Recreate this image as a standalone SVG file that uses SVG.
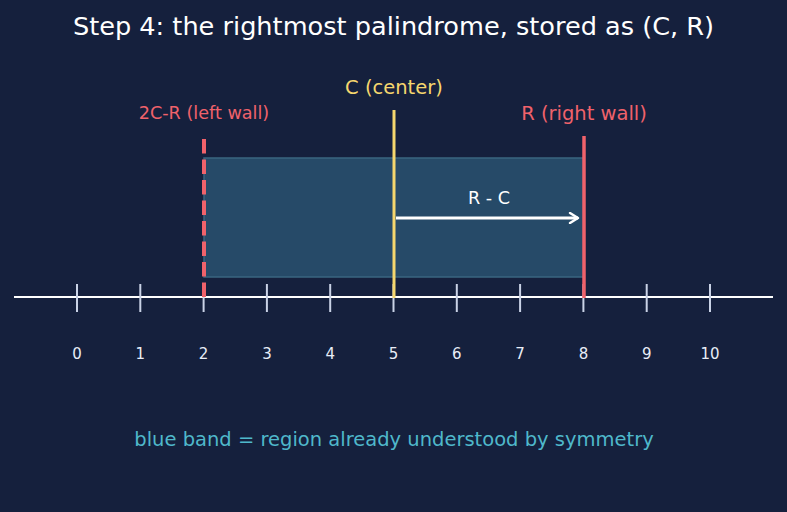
<svg xmlns="http://www.w3.org/2000/svg" width="787" height="512" viewBox="0 0 787 512">
<defs>
<style>
text{font-family:"DejaVu Sans","Noto Sans",sans-serif;text-anchor:middle}
.tick{stroke:#c9d2e6;stroke-width:2}
.num{fill:#e8edf7;font-size:15px}
</style>
<marker id="ah" viewBox="0 0 12 12" refX="10" refY="6" markerWidth="12" markerHeight="12" markerUnits="userSpaceOnUse" orient="auto">
<path d="M2,1 L10,6 L2,11" fill="none" stroke="#ffffff" stroke-width="2.4" stroke-linecap="round" stroke-linejoin="round"/>
</marker>
</defs>
<rect width="787" height="512" fill="#15203d"/>
<text x="393.5" y="35" font-size="25.6" fill="#ffffff">Step 4: the rightmost palindrome, stored as (C, R)</text>
<g id="band">
<rect x="204" y="158" width="380" height="119" fill="#264a68" stroke="#3a6680" stroke-width="1.5"/>
</g>
<g id="axis">
<line x1="14" y1="297" x2="773" y2="297" stroke="#ffffff" stroke-width="2"/>
<line class="tick" x1="77" y1="284" x2="77" y2="312"/>
<line class="tick" x1="140.3" y1="284" x2="140.3" y2="312"/>
<line class="tick" x1="203.6" y1="284" x2="203.6" y2="312"/>
<line class="tick" x1="266.9" y1="284" x2="266.9" y2="312"/>
<line class="tick" x1="330.2" y1="284" x2="330.2" y2="312"/>
<line class="tick" x1="393.5" y1="284" x2="393.5" y2="312"/>
<line class="tick" x1="456.8" y1="284" x2="456.8" y2="312"/>
<line class="tick" x1="520.1" y1="284" x2="520.1" y2="312"/>
<line class="tick" x1="583.4" y1="284" x2="583.4" y2="312"/>
<line class="tick" x1="646.7" y1="284" x2="646.7" y2="312"/>
<line class="tick" x1="710" y1="284" x2="710" y2="312"/>
<text class="num" x="77" y="359">0</text>
<text class="num" x="140.3" y="359">1</text>
<text class="num" x="203.6" y="359">2</text>
<text class="num" x="266.9" y="359">3</text>
<text class="num" x="330.2" y="359">4</text>
<text class="num" x="393.5" y="359">5</text>
<text class="num" x="456.8" y="359">6</text>
<text class="num" x="520.1" y="359">7</text>
<text class="num" x="583.4" y="359">8</text>
<text class="num" x="646.7" y="359">9</text>
<text class="num" x="710" y="359">10</text>
</g>
<g id="left-wall">
<line x1="204" y1="139" x2="204" y2="297" stroke="#f0626b" stroke-width="4" stroke-dasharray="14.5 6"/>
<text x="204" y="119" font-size="17.6" fill="#f0626b">2C-R (left wall)</text>
</g>
<g id="center">
<line x1="394" y1="110" x2="394" y2="298" stroke="#f5d76e" stroke-width="3"/>
<text x="394" y="94" font-size="19.5" fill="#f5d76e">C (center)</text>
</g>
<g id="right-wall">
<line x1="584" y1="136" x2="584" y2="298" stroke="#f0626b" stroke-width="3.5"/>
<text x="584" y="120" font-size="19.5" fill="#f0626b">R (right wall)</text>
</g>
<g id="connectors">
<line x1="396" y1="218" x2="578" y2="218" stroke="#ffffff" stroke-width="3" marker-end="url(#ah)"/>
<text x="489" y="204" font-size="17.6" fill="#ffffff">R - C</text>
</g>
<text x="394" y="446" font-size="19.5" fill="#4fb8cb">blue band = region already understood by symmetry</text>
</svg>
